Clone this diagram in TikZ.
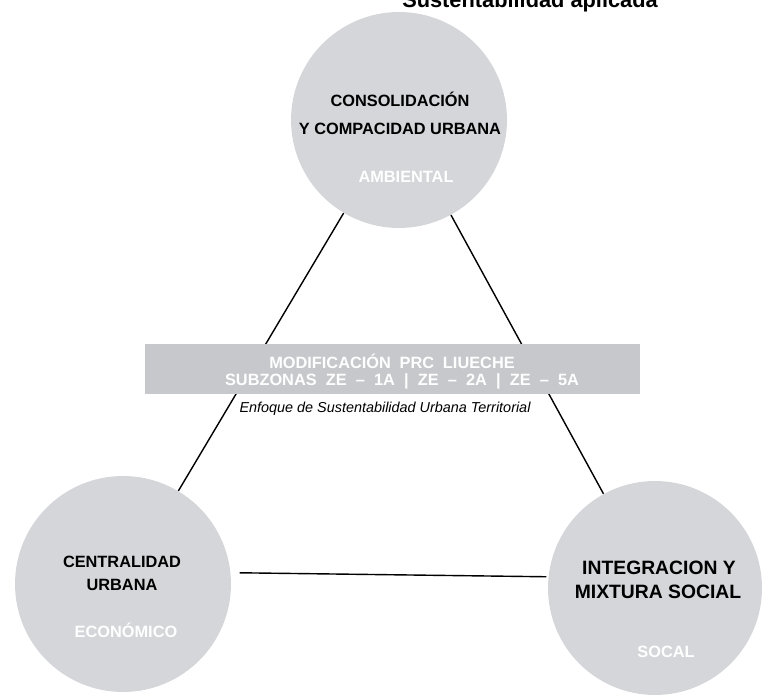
\documentclass[tikz,border=0pt]{standalone}
\usepackage{fontspec}
\setmainfont{Liberation Sans}
\usepackage{tikz}
\usetikzlibrary{calc,positioning}
\definecolor{pilargray}{HTML}{D5D6DA}
\definecolor{bargray}{HTML}{C7C8CC}

\begin{document}
\begin{tikzpicture}[x=0.02cm,y=-0.02cm,
  pilar/.style={circle,fill=pilargray,inner sep=0pt,minimum size=4.32cm},
  lado/.style={line width=0.8pt,black},
  tema/.style={font=\bfseries\fontsize{9.3}{11}\selectfont,anchor=base,inner sep=0pt},
  eje/.style={font=\bfseries\fontsize{9.3}{11}\selectfont,text=white,anchor=base,inner sep=0pt},
  barra/.style={fill=bargray,minimum width=9.9cm,minimum height=1cm,inner sep=0pt}]
\useasboundingbox (0,0) rectangle (764,695);
\node[font=\bfseries\fontsize{12.4}{14}\selectfont,anchor=base,inner sep=0pt] (titulo) at (530,8) {Sustentabilidad aplicada};
\node[pilar] (amb) at (399,120) {};
\node[pilar] (eco) at (123,584) {};
\node[pilar,minimum size=4.28cm] (soc) at (655,588) {};
\draw[lado] (amb) -- (eco);
\draw[lado] (amb) -- (soc);
\draw[lado,shorten <=0.18cm,shorten >=0.04cm] (eco.6) -- (soc.174);
\node[barra] (prc) at (392.5,369) {};
\node[eje] (prc1) at (392,369) {\spaceskip=5pt MODIFICACIÓN PRC LIUECHE};
\node[eje] (prc2) at (402,386) {\spaceskip=5.2pt SUBZONAS ZE – 1A | ZE – 2A | ZE – 5A};
\node[font=\itshape\fontsize{8.2}{10}\selectfont,anchor=base,inner sep=0pt] (enfoque) at (385,413) {Enfoque de Sustentabilidad Urbana Territorial};
\node[tema] (amb1) at (400,107) {CONSOLIDACIÓN};
\node[tema] (amb2) at (400,135) {Y COMPACIDAD URBANA};
\node[eje] (amb3) at (406,183) {AMBIENTAL};
\node[tema] (eco1) at (122,567) {CENTRALIDAD};
\node[tema] (eco2) at (122,590) {URBANA};
\node[eje] (eco3) at (126,637) {ECONÓMICO};
\node[tema,font=\bfseries\fontsize{11}{13}\selectfont] (soc1) at (659,575) {INTEGRACION Y};
\node[tema,font=\bfseries\fontsize{11}{13}\selectfont] (soc2) at (658,599) {MIXTURA SOCIAL};
\node[eje] (soc3) at (666,657) {SOCAL};
\end{tikzpicture}
\end{document}
